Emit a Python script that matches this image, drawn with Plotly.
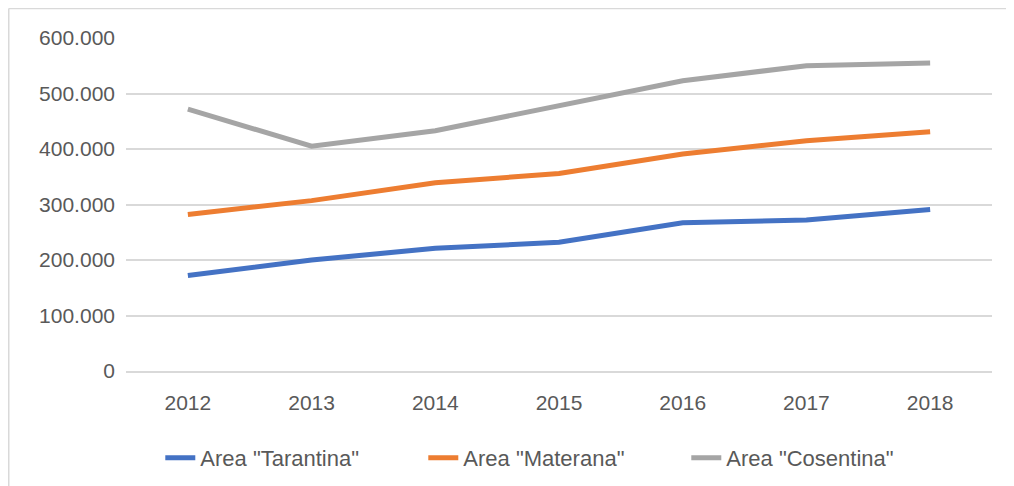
import plotly.graph_objects as go

# Data
years = ["2012", "2013", "2014", "2015", "2016", "2017", "2018"]
tarantina = [172000, 200000, 221000, 232000, 267000, 272000, 291000]
materana = [282000, 307000, 339000, 356000, 391000, 415000, 431000]
cosentina = [472000, 405000, 433000, 477000, 523000, 550000, 555000]

series = [
    ('Area "Tarantina"', tarantina, "#4472c4"),
    ('Area "Materana"', materana, "#ed7d31"),
    ('Area "Cosentina"', cosentina, "#a5a5a5"),
]

FONT = "Liberation Sans"
TEXT = "#595959"
GRID = "#d9d9d9"

fig = go.Figure()
for name, vals, color in series:
    fig.add_trace(
        go.Scatter(
            x=years, y=vals, mode="lines", name=name,
            line=dict(color=color, width=5),
        )
    )

# Chart-area border (only top and left edges are visible in the crop)
fig.add_shape(type="line", xref="paper", yref="paper",
              x0=-0.1354, x1=1.05, y0=1.0886, y1=1.0886,
              line=dict(color=GRID, width=1.5))
fig.add_shape(type="line", xref="paper", yref="paper",
              x0=-0.1354, x1=-0.1354, y0=1.0886, y1=-0.45,
              line=dict(color=GRID, width=1.5))

fig.update_layout(
    width=1006, height=478,
    margin=dict(l=118, r=22, t=30, b=115, autoexpand=False),
    paper_bgcolor="white", plot_bgcolor="white",
    separators=",.",
    font=dict(family=FONT, size=21, color=TEXT),
    showlegend=True,
    legend=dict(orientation="h", x=0.0396, xanchor="left",
                yref="container", y=0.0586, yanchor="middle",
                font=dict(size=22, color=TEXT),
                entrywidth=218, entrywidthmode="pixels", tracegroupgap=0),
)
fig.update_xaxes(
    type="category", range=[-0.5, 6.5], showgrid=False, showline=True,
    linecolor=GRID, linewidth=1.5, ticks="",
    tickfont=dict(size=21, color=TEXT), ticklabelstandoff=12,
)
fig.update_yaxes(
    range=[0, 600000], dtick=100000, tickformat=",.0f",
    showgrid=True, gridcolor=GRID, gridwidth=1.5,
    zeroline=True, zerolinecolor=GRID, zerolinewidth=1.5,
    showline=False, ticks="", tickfont=dict(size=21, color=TEXT),
    ticklabelstandoff=10,
)

fig.write_html("out.html")
